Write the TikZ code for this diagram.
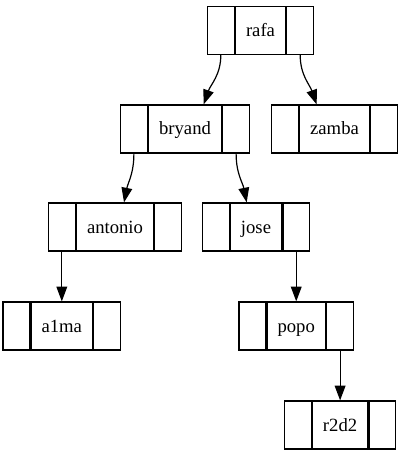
\documentclass[tikz,border=0pt]{standalone}
\usepackage{fontspec}
\setmainfont{Liberation Serif}
\usetikzlibrary{positioning,arrows.meta}

\begin{document}
\begin{tikzpicture}[
            x=0.75pt, y=-0.75pt,
            box/.style={rectangle, draw, line width=0.9pt, minimum height=36pt, inner xsep=8pt, text height=12pt, text depth=3pt, font=\fontsize{14pt}{16pt}\selectfont},
            field/.style={rectangle, draw, line width=0.9pt, minimum height=36pt, minimum width=20pt},
            arrow/.style={-{Triangle[length=11pt,width=8pt]}, line width=0.9pt}
        ]
            \useasboundingbox (0,0) rectangle (401,456);
            \node[box] (rafa) at (260.5,30.5) {rafa};
            \node[field, left=0pt of rafa] (rafa-l) {};
            \node[field, right=0pt of rafa] (rafa-r) {};
            \node[box] (bryand) at (185,129) {bryand};
            \node[field, left=0pt of bryand] (bryand-l) {};
            \node[field, right=0pt of bryand] (bryand-r) {};
            \node[box] (zamba) at (334.5,129) {zamba};
            \node[field, left=0pt of zamba] (zamba-l) {};
            \node[field, right=0pt of zamba] (zamba-r) {};
            \node[box] (antonio) at (115,227) {antonio};
            \node[field, left=0pt of antonio] (antonio-l) {};
            \node[field, right=0pt of antonio] (antonio-r) {};
            \node[box] (jose) at (256,227) {jose};
            \node[field, left=0pt of jose] (jose-l) {};
            \node[field, right=0pt of jose] (jose-r) {};
            \node[box] (a1ma) at (antonio-l |- 0,326) {a1ma};
            \node[field, left=0pt of a1ma] (a1ma-l) {};
            \node[field, right=0pt of a1ma] (a1ma-r) {};
            \node[box] (popo) at (jose-r |- 0,326) {popo};
            \node[field, left=0pt of popo] (popo-l) {};
            \node[field, right=0pt of popo] (popo-r) {};
            \node[box] (r2d2) at (popo-r |- 0,425) {r2d2};
            \node[field, left=0pt of r2d2] (r2d2-l) {};
            \node[field, right=0pt of r2d2] (r2d2-r) {};

            \draw[arrow] (rafa-l.south) .. controls +(0,20) and +(7,-20) .. ([xshift=14pt]bryand.north);
            \draw[arrow] (rafa-r.south) .. controls +(0,20) and +(-7,-20) .. ([xshift=-13.4pt]zamba.north);
            \draw[arrow] (bryand-l.south) .. controls +(0,20) and +(4,-20) .. ([xshift=6.75pt]antonio.north);
            \draw[arrow] (bryand-r.south) .. controls +(0,20) and +(-4,-20) .. ([xshift=-7pt]jose.north);
            \draw[arrow] (antonio-l) -- (a1ma);
            \draw[arrow] (jose-r) -- (popo);
            \draw[arrow] (popo-r) -- (r2d2);
        \end{tikzpicture}
\end{document}
